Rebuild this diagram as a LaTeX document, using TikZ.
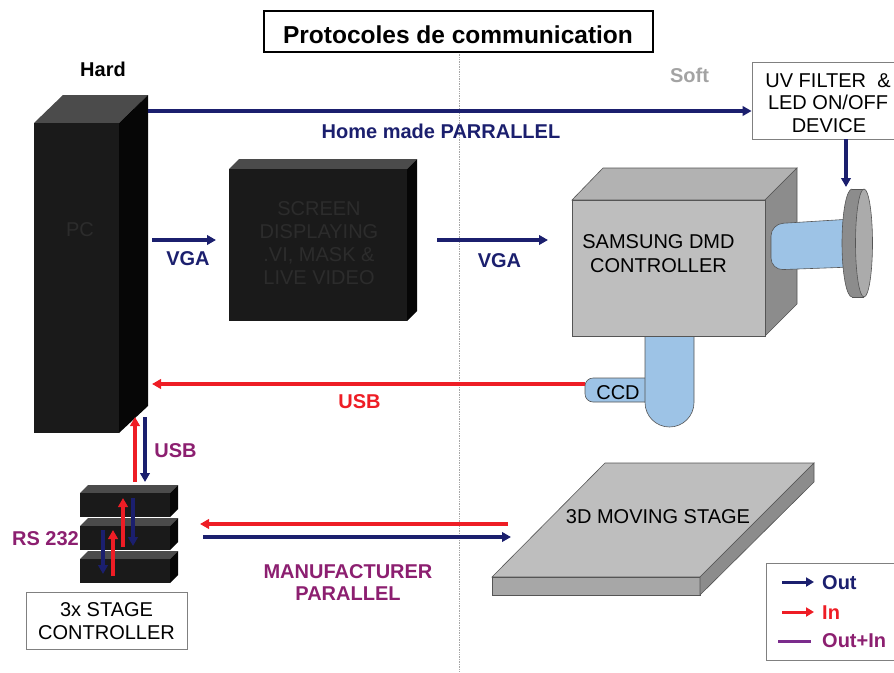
\documentclass[tikz,border=0pt]{standalone}
\usepackage{fontspec}
\setmainfont{Liberation Sans}
\usetikzlibrary{arrows.meta}

\definecolor{outblue}{HTML}{1B1F6E}
\definecolor{inred}{HTML}{EE1D25}
\definecolor{mixpurple}{HTML}{8C1F70}
\definecolor{legpurple}{HTML}{7B2C8C}
\definecolor{softgray}{HTML}{A3A3A3}
\definecolor{blkfront}{HTML}{1A1A1A}
\definecolor{blktop}{HTML}{4B4B4B}
\definecolor{blkside}{HTML}{060606}
\definecolor{blktext}{HTML}{2C2C2C}
\definecolor{gryfront}{HTML}{BEBEBE}
\definecolor{grytop}{HTML}{B2B2B2}
\definecolor{gryside}{HTML}{8C8C8C}
\definecolor{discface}{HTML}{ABABAB}
\definecolor{optblue}{HTML}{9DC3E6}
\definecolor{edgegray}{HTML}{555555}

\begin{document}
\begin{tikzpicture}[x=1pt,y=-1pt,
  txt/.style={anchor=base, inner sep=0pt, font=\fontsize{20}{23}\selectfont},
  btxt/.style={anchor=base, inner sep=0pt, font=\bfseries\fontsize{20}{23}\selectfont},
  wire/.style={line width=3.2pt},
  arr/.style={-{Triangle[length=9pt,width=9.5pt]}},
  legarr/.style={line width=3pt, -{Triangle[length=8pt,width=9pt]}},
  solid3d/.style={draw=edgegray, line width=0.6pt},
  labelbox/.style={draw=gray, line width=0.8pt, fill=white, inner sep=0pt}
]
\useasboundingbox (0,0) rectangle (894,672);

% divider between hardware and software side
\draw[gray!70, densely dotted, line width=0.7pt] (459,52) -- (459,672);

% title
\node[draw, line width=2pt, minimum width=389pt, minimum height=41pt, inner sep=0pt]
  (titlebox) at (458.5,31.5) {};
\node[anchor=base, inner sep=0pt, font=\bfseries\fontsize{24.5}{28}\selectfont]
  (title) at (458,43) {Protocoles de communication};

\node[btxt] (hard) at (103,76) {Hard};
\node[btxt, text=softgray] (soft) at (689.5,82) {Soft};

% PC tower
\fill[blktop] (34,123) -- (63,95) -- (148,95) -- (119,123) -- cycle;
\fill[blkside] (119,123) -- (148,95) -- (148,406) -- (119,433) -- cycle;
\node[fill=blkfront, anchor=north west, minimum width=85pt, minimum height=310pt, inner sep=0pt]
  (pc) at (34,123) {};
\node[txt, text=blktext] (pclabel) at (80,236) {PC};

% screen
\fill[blktop] (229,169) -- (239,159) -- (417,159) -- (407,169) -- cycle;
\fill[blkside] (407,169) -- (417,159) -- (417,311) -- (407,321) -- cycle;
\node[fill=blkfront, anchor=north west, minimum width=178pt, minimum height=152pt, inner sep=0pt]
  (screen) at (229,169) {};
\node[txt, text=blktext] (scr1) at (319,215) {SCREEN};
\node[txt, text=blktext] (scr2) at (319,238) {DISPLAYING};
\node[txt, text=blktext] (scr3) at (319,261) {.VI, MASK \&};
\node[txt, text=blktext] (scr4) at (319,284) {LIVE VIDEO};

% CCD camera tube under the DMD controller
\draw[solid3d, fill=optblue, rounded corners=8pt]
  (650,378) -- (585,378) -- (585,402) -- (650,402);
\draw[solid3d, fill=optblue, rounded corners=24.5pt]
  (645,330) -- (645,427) -- (694,427) -- (694,330);
\node[txt] (ccd) at (618,399) {CCD};

% DMD controller
\filldraw[solid3d, fill=grytop] (572,200) -- (603,168) -- (797,168) -- (765,200) -- cycle;
\filldraw[solid3d, fill=gryside] (765,200) -- (797,168) -- (797,304) -- (765,336) -- cycle;
\node[solid3d, fill=gryfront, anchor=north west, minimum width=193pt, minimum height=136pt, inner sep=0pt]
  (dmd) at (572,200) {};
\node[txt] (dmd1) at (658.5,248) {SAMSUNG DMD};
\node[txt] (dmd2) at (658.5,272) {CONTROLLER};

% optics: lens tube and UV filter disc
\draw[solid3d, fill=optblue, rounded corners=12pt]
  (852,219) -- (771,224) -- (771,270) -- (852,267);
\fill[gryside] (852,243) ellipse [x radius=10pt, y radius=54pt];
\fill[gryside] (852,189) rectangle (864,297);
\draw[edgegray, line width=0.6pt] (852,189) -- (864,189);
\draw[edgegray, line width=0.6pt] (852,297) -- (864,297);
\draw[edgegray, line width=0.6pt] (852,189) arc[start angle=90, end angle=270, x radius=10pt, y radius=54pt];
\filldraw[solid3d, fill=discface] (864,243) ellipse [x radius=8.5pt, y radius=54pt];
\coordinate (disctop) at (846,187);

% UV filter box
\node[labelbox, minimum width=142pt, minimum height=77pt] (uv) at (823,100.5) {};
\node[txt] (uv1) at (828,87) {UV FILTER\ \ \&};
\node[txt] (uv2) at (828,109) {LED ON/OFF};
\node[txt] (uv3) at (829,132) {DEVICE};

% moving stage
\filldraw[solid3d, fill=gryfront] (492,577) -- (605,463) -- (814,463) -- (700,577) -- cycle;
\filldraw[solid3d, fill=gryfront!88!black] (492,577) -- (700,577) -- (700,595) -- (492,595) -- cycle;
\filldraw[solid3d, fill=gryside] (700,577) -- (814,463) -- (814,482) -- (700,595) -- cycle;
\node[txt] (stage) at (658,523) {3D MOVING STAGE};

% stacked stage controllers
\foreach \y in {485,518,551} {
  \fill[blktop] (80,\y+8) -- (88,\y) -- (178,\y) -- (170,\y+8) -- cycle;
  \fill[blkside] (170,\y+8) -- (178,\y) -- (178,\y+24) -- (170,\y+32) -- cycle;
  \fill[blkfront] (80,\y+8) rectangle (170,\y+32);
}
\node[labelbox, minimum width=161pt, minimum height=57pt] (ctrlbox) at (106.5,620.5) {};
\node[txt] (ctrl1) at (106.5,616) {3x STAGE};
\node[txt] (ctrl2) at (106.5,639) {CONTROLLER};
\node[btxt, text=mixpurple] (rs) at (45.5,545) {RS 232};

% connector end points
\coordinate (pcTop) at (148,111);
\coordinate (pcVgaOut) at (152,240);
\coordinate (scrIn) at (216,240);
\coordinate (scrOut) at (437,240);
\coordinate (dmdIn) at (548,240);
\coordinate (ccdOut) at (585,384);
\coordinate (pcUsbIn) at (152,384);
\coordinate (ctrlUp) at (135,482);
\coordinate (pcUp) at (135,417);
\coordinate (pcDown) at (145,417);
\coordinate (ctrlDown) at (145,482);
\coordinate (stageOutR) at (508,524);
\coordinate (ctrlInR) at (200,524);
\coordinate (ctrlOutB) at (203,537);
\coordinate (stageInB) at (511,537);

% connectors
\draw[wire, outblue, arr] (pcTop) -- (uv.west |- pcTop);
\node[btxt, text=outblue] (hmlabel) at (441,138) {Home made PARRALLEL};
\draw[wire, outblue, arr] (uv.south -| disctop) -- (disctop);

\draw[wire, outblue, arr] (pcVgaOut) -- (scrIn);
\node[btxt, text=outblue] (vga1) at (188,265) {VGA};
\draw[wire, outblue, arr] (scrOut) -- (dmdIn);
\node[btxt, text=outblue] (vga2) at (499.5,267) {VGA};

\draw[wire, inred, arr] (ccdOut) -- (pcUsbIn);
\node[btxt, text=inred] (usb1) at (359.5,408) {USB};

\draw[wire, inred, arr] (ctrlUp) -- (pcUp);
\draw[wire, outblue, arr] (pcDown) -- (ctrlDown);
\node[btxt, text=mixpurple] (usb2) at (175.5,457) {USB};

% RS 232 links inside the controller stack
\coordinate (rsA1) at (123,547); \coordinate (rsA2) at (123,498);
\coordinate (rsB1) at (133,498); \coordinate (rsB2) at (133,546);
\coordinate (rsC1) at (113,576); \coordinate (rsC2) at (113,530);
\coordinate (rsD1) at (103,530); \coordinate (rsD2) at (103,574);
\draw[wire, inred, arr] (rsA1) -- (rsA2);
\draw[wire, outblue, arr] (rsB1) -- (rsB2);
\draw[wire, inred, arr] (rsC1) -- (rsC2);
\draw[wire, outblue, arr] (rsD1) -- (rsD2);

\draw[wire, inred, arr] (stageOutR) -- (ctrlInR);
\draw[wire, outblue, arr] (ctrlOutB) -- (stageInB);
\node[btxt, text=mixpurple] (man1) at (348,578) {MANUFACTURER};
\node[btxt, text=mixpurple] (man2) at (348,600) {PARALLEL};

% legend
\node[labelbox, minimum width=128pt, minimum height=97pt] (legend) at (830,611.5) {};
\coordinate (lgOutA) at (782,582); \coordinate (lgOutB) at (814,582);
\coordinate (lgInA) at (782,612);  \coordinate (lgInB) at (814,612);
\coordinate (lgMixA) at (778,641); \coordinate (lgMixB) at (811,641);
\draw[legarr, outblue] (lgOutA) -- (lgOutB);
\draw[legarr, inred] (lgInA) -- (lgInB);
\draw[line width=3pt, legpurple] (lgMixA) -- (lgMixB);
\node[btxt, anchor=base west, text=outblue] (lgOut) at (822,589) {Out};
\node[btxt, anchor=base west, text=inred] (lgIn) at (822,619) {In};
\node[btxt, anchor=base west, text=mixpurple] (lgMix) at (822,647) {Out+In};
\end{tikzpicture}
\end{document}
